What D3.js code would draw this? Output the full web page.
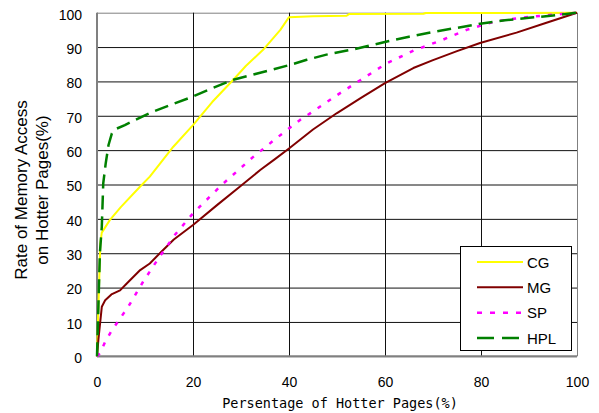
<!DOCTYPE html>
<html>
<head>
<meta charset="utf-8">
<script src="https://cdn.jsdelivr.net/npm/d3@7"></script>
<style>
  body { margin: 0; background: #fff; }
  svg { display: block; }
  .tick text { font-family: "Liberation Sans", Arial, sans-serif; font-size: 14px; fill: #000; }
</style>
</head>
<body>
<svg></svg>
<script>
// [percentage of hotter pages, rate of memory access]
const cg = [[0,0],[0.3,15],[0.7,33],[1,36],[2.7,39.7],[5,43.5],[9,49.4],[11,52.3],[15.9,61],[20,67.3],
  [24,74],[28.4,80.5],[31,84.5],[34.6,89.2],[38.2,95],[40,98.7],[45,99],[52,99.1],[52.5,99.6],
  [68,99.7],[68.5,99.9],[85,99.9],[100,100]]
const mg = [[0,0],[0.3,5],[0.6,9],[1,14.4],[1.7,16.3],[3,18],[4.8,19.2],[6.2,21.2],[9,25.1],[11,27],
  [13.1,30],[16,34],[20,38.2],[25,44],[29.8,49.4],[34,54.2],[37,57.3],[40,60.5],[45,66],[50,70.8],
  [55,75.2],[60,79.5],[65.9,83.9],[70,86.2],[75,88.8],[79.8,91.2],[87.4,94.2],[93,96.8],[100,100]]
const sp = [[0,0],[0.6,0.9],[1.7,4.2],[3.1,7.6],[4.8,11],[6.5,14.4],[9.6,21.7],[12.8,28.5],[16.2,35.3],
  [20,41.6],[26,49.9],[32.6,58.1],[37.4,63.5],[42.3,68.8],[44.4,70.7],[50,76],[55,80.5],[60.4,85.3],
  [66,89],[72,92.1],[77,95],[83,97.5],[90,98.8],[100,100]]
const hpl = [[0,0],[0.3,15],[0.6,30],[1,37.7],[1.3,50.3],[1.8,56],[2.4,61.5],[3.1,64.9],[4,66.2],
  [5.8,67.3],[8,68.8],[11,70.8],[15,73],[20,75.6],[24,78],[28.4,80.5],[34,82.5],[40.2,84.8],[43.7,86.3],
  [47.8,87.8],[54,89.5],[60.4,91.6],[65,93],[70,94.4],[75,95.6],[79.8,96.8],[85,97.8],[90,98.5],
  [95,99.2],[100,100]]

const names = ["CG", "MG", "SP", "HPL"]
const xTicks = [0, 20, 40, 60, 80, 100]
const yTicks = [0, 10, 20, 30, 40, 50, 60, 70, 80, 90, 100]

const W = 599, H = 413
const m = { left: 97, right: 22, top: 12.7, bottom: 56.7 }
const iw = W - m.left - m.right, ih = H - m.top - m.bottom

const styles = {
  CG:  { color: "#ffff00", dash: null, width: 2 },
  MG:  { color: "#800000", dash: null, width: 2 },
  SP:  { color: "#ff00ff", dash: "4,8", width: 2.5 },
  HPL: { color: "#008000", dash: "14,7", width: 2.5 }
}
const series = { CG: cg, MG: mg, SP: sp, HPL: hpl }

let svg = d3.select("svg").attr("width", W).attr("height", H)
let g = svg.append("g").attr("transform", "translate(" + m.left + "," + m.top + ")")

let x = d3.scaleLinear().domain([0, 100]).range([0, iw])
let y = d3.scaleLinear().domain([0, 100]).range([ih, 0])

// grid + ticks
let gy = g.append("g")
  .call(d3.axisLeft(y).tickValues(yTicks).tickSize(-iw).tickPadding(15))
gy.select(".domain").remove()
gy.selectAll(".tick line").attr("stroke", d => d === 100 || d === 0 ? "#808080" : "#111")
gy.selectAll(".tick text").attr("dy", "0.45em")

let gx = g.append("g").attr("transform", "translate(0," + ih + ")")
  .call(d3.axisBottom(x).tickValues(xTicks).tickSize(-ih).tickPadding(21))
gx.select(".domain").remove()
gx.selectAll(".tick line").attr("stroke", d => d === 100 || d === 0 ? "#808080" : "#111")

// axis lines
g.append("line").attr("x1", 0).attr("x2", 0).attr("y1", 0).attr("y2", ih)
  .attr("stroke", "#808080").attr("stroke-width", 2)
g.append("line").attr("x1", 0).attr("x2", iw).attr("y1", ih).attr("y2", ih)
  .attr("stroke", "#808080").attr("stroke-width", 2)

// curves
let line = d3.line().x(d => x(d[0])).y(d => y(d[1]))
names.forEach(n => {
  g.append("path")
    .datum(series[n])
    .attr("d", line)
    .attr("fill", "none")
    .attr("stroke", styles[n].color)
    .attr("stroke-width", styles[n].width)
    .attr("stroke-dasharray", styles[n].dash)
    .attr("stroke-linejoin", "round")
})

// axis titles
svg.append("text")
  .attr("x", 340).attr("y", 408)
  .attr("text-anchor", "middle")
  .style("font-family", "'DejaVu Sans Mono', monospace")
  .style("font-size", "13.5px")
  .text("Persentage of Hotter Pages(%)")

let yl = svg.append("text")
  .attr("transform", "translate(27,190) rotate(-90)")
  .attr("text-anchor", "middle")
  .style("font-family", "'Liberation Sans', Arial, sans-serif")
  .style("font-size", "17px")
yl.append("tspan").attr("x", 0).attr("y", 0).text("Rate of Memory Access")
yl.append("tspan").attr("x", 0).attr("y", 21).text("on Hotter Pages(%)")

// legend
let lg = svg.append("g")
lg.append("rect")
  .attr("x", 460.5).attr("y", 246.5).attr("width", 111).attr("height", 104)
  .attr("fill", "#fff").attr("stroke", "#000")
let ly = d3.scalePoint().domain(names).range([262, 338])
names.forEach(n => {
  lg.append("line")
    .attr("x1", 477).attr("x2", 523)
    .attr("y1", ly(n)).attr("y2", ly(n))
    .attr("stroke", styles[n].color)
    .attr("stroke-width", styles[n].width)
    .attr("stroke-dasharray", n === "SP" ? "5,8" : n === "HPL" ? "17,8" : null)
  lg.append("text")
    .attr("x", 527).attr("y", ly(n) + 5.5)
    .style("font-family", "'Liberation Sans', Arial, sans-serif")
    .style("font-size", "15px")
    .text(n)
})
</script>
</body>
</html>
